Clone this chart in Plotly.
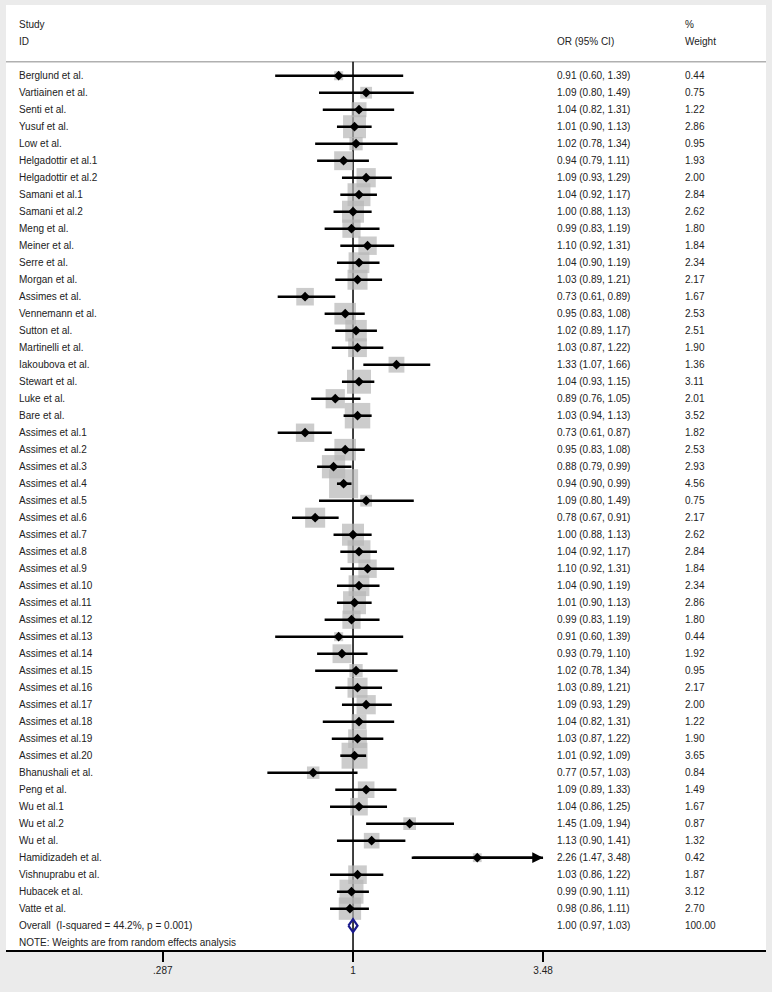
import numpy as np
import plotly.graph_objects as go

studies = [
    "Berglund et al.", "Vartiainen et al.", "Senti et al.", "Yusuf et al.", "Low et al.",
    "Helgadottir et al.1", "Helgadottir et al.2", "Samani et al.1", "Samani et al.2", "Meng et al.",
    "Meiner et al.", "Serre et al.", "Morgan et al.", "Assimes et al.", "Vennemann et al.",
    "Sutton et al.", "Martinelli et al.", "Iakoubova et al.", "Stewart et al.", "Luke et al.",
    "Bare et al.", "Assimes et al.1", "Assimes et al.2", "Assimes et al.3", "Assimes et al.4",
    "Assimes et al.5", "Assimes et al.6", "Assimes et al.7", "Assimes et al.8", "Assimes et al.9",
    "Assimes et al.10", "Assimes et al.11", "Assimes et al.12", "Assimes et al.13", "Assimes et al.14",
    "Assimes et al.15", "Assimes et al.16", "Assimes et al.17", "Assimes et al.18", "Assimes et al.19",
    "Assimes et al.20", "Bhanushali et al.", "Peng et al.", "Wu et al.1", "Wu et al.2",
    "Wu et al.", "Hamidizadeh et al.", "Vishnuprabu et al.", "Hubacek et al.", "Vatte et al.",
]
odds = [
    0.91, 1.09, 1.04, 1.01, 1.02, 0.94, 1.09, 1.04, 1.00, 0.99,
    1.10, 1.04, 1.03, 0.73, 0.95, 1.02, 1.03, 1.33, 1.04, 0.89,
    1.03, 0.73, 0.95, 0.88, 0.94, 1.09, 0.78, 1.00, 1.04, 1.10,
    1.04, 1.01, 0.99, 0.91, 0.93, 1.02, 1.03, 1.09, 1.04, 1.03,
    1.01, 0.77, 1.09, 1.04, 1.45, 1.13, 2.26, 1.03, 0.99, 0.98,
]
lower = [
    0.60, 0.80, 0.82, 0.90, 0.78, 0.79, 0.93, 0.92, 0.88, 0.83,
    0.92, 0.90, 0.89, 0.61, 0.83, 0.89, 0.87, 1.07, 0.93, 0.76,
    0.94, 0.61, 0.83, 0.79, 0.90, 0.80, 0.67, 0.88, 0.92, 0.92,
    0.90, 0.90, 0.83, 0.60, 0.79, 0.78, 0.89, 0.93, 0.82, 0.87,
    0.92, 0.57, 0.89, 0.86, 1.09, 0.90, 1.47, 0.86, 0.90, 0.86,
]
upper = [
    1.39, 1.49, 1.31, 1.13, 1.34, 1.11, 1.29, 1.17, 1.13, 1.19,
    1.31, 1.19, 1.21, 0.89, 1.08, 1.17, 1.22, 1.66, 1.15, 1.05,
    1.13, 0.87, 1.08, 0.99, 0.99, 1.49, 0.91, 1.13, 1.17, 1.31,
    1.19, 1.13, 1.19, 1.39, 1.10, 1.34, 1.21, 1.29, 1.31, 1.22,
    1.09, 1.03, 1.33, 1.25, 1.94, 1.41, 3.48, 1.22, 1.11, 1.11,
]
weights = [
    0.44, 0.75, 1.22, 2.86, 0.95, 1.93, 2.00, 2.84, 2.62, 1.80,
    1.84, 2.34, 2.17, 1.67, 2.53, 2.51, 1.90, 1.36, 3.11, 2.01,
    3.52, 1.82, 2.53, 2.93, 4.56, 0.75, 2.17, 2.62, 2.84, 1.84,
    2.34, 2.86, 1.80, 0.44, 1.92, 0.95, 2.17, 2.00, 1.22, 1.90,
    3.65, 0.84, 1.49, 1.67, 0.87, 1.32, 0.42, 1.87, 3.12, 2.70,
]
overall_label = "Overall  (I-squared = 44.2%, p = 0.001)"
overall = (1.00, 0.97, 1.03)
note = "NOTE: Weights are from random effects analysis"
tick_vals = [0.287, 1, 3.48]
tick_text = [".287", "1", "3.48"]

rows = np.arange(1, len(studies) + 1)
over_row = len(studies) + 1
note_row = over_row + 1
axis_max = 3.48

FONT = "Liberation Sans, Arial, sans-serif"
TXT = dict(family=FONT, size=10, color="#222222")

fig = go.Figure()

# grey weight boxes
fig.add_trace(go.Scatter(
    x=odds, y=rows, mode="markers",
    marker=dict(symbol="square", size=[13.6 * np.sqrt(w) for w in weights],
                color="#b7b7b7", line=dict(width=0)),
    hoverinfo="skip", showlegend=False,
))

# confidence intervals (capped at axis limit)
cx, cy = [], []
for lo, hi, r in zip(lower, upper, rows):
    cx += [lo, min(hi, axis_max), None]
    cy += [r, r, None]
fig.add_trace(go.Scatter(
    x=cx, y=cy, mode="lines", line=dict(color="black", width=2.6),
    hoverinfo="skip", showlegend=False,
))

# point estimates
fig.add_trace(go.Scatter(
    x=odds, y=rows, mode="markers",
    marker=dict(symbol="diamond", size=7.5, color="black"),
    hoverinfo="skip", showlegend=False,
))

# overall diamond
est, olo, ohi = overall
h = 0.38
fig.add_trace(go.Scatter(
    x=[olo, est, ohi, est, olo], y=[over_row, over_row - h, over_row, over_row + h, over_row],
    mode="lines", line=dict(color="#1a1a8c", width=2.2),
    hoverinfo="skip", showlegend=False,
))

# arrow for the truncated interval
for lo, hi, r in zip(lower, upper, rows):
    if hi >= axis_max:
        fig.add_annotation(
            x=np.log10(axis_max), y=r, ax=np.log10(lo), ay=r,
            xref="x", yref="y", axref="x", ayref="y",
            showarrow=True, arrowhead=2, arrowsize=0.9, arrowwidth=2.4,
            arrowcolor="black", text="",
        )

# text columns
def px(p):
    return (p - 6) / 760.0

for name, o, lo, hi, w, r in zip(studies, odds, lower, upper, weights, rows):
    fig.add_annotation(x=px(17), y=r, xref="paper", yref="y", text=name,
                       showarrow=False, xanchor="left", font=TXT)
    fig.add_annotation(x=px(555), y=r, xref="paper", yref="y",
                       text=f"{o:.2f} ({lo:.2f}, {hi:.2f})",
                       showarrow=False, xanchor="left", font=TXT)
    fig.add_annotation(x=px(683), y=r, xref="paper", yref="y", text=f"{w:.2f}",
                       showarrow=False, xanchor="left", font=TXT)

fig.add_annotation(x=px(17), y=over_row, xref="paper", yref="y", text=overall_label,
                   showarrow=False, xanchor="left", font=TXT)
fig.add_annotation(x=px(555), y=over_row, xref="paper", yref="y",
                   text=f"{est:.2f} ({olo:.2f}, {ohi:.2f})",
                   showarrow=False, xanchor="left", font=TXT)
fig.add_annotation(x=px(683), y=over_row, xref="paper", yref="y", text="100.00",
                   showarrow=False, xanchor="left", font=TXT)
fig.add_annotation(x=px(17), y=note_row, xref="paper", yref="y", text=note,
                   showarrow=False, xanchor="left", font=TXT)

# headers
for label, xp, r in [("Study", 17, -2), ("ID", 17, -1), ("OR (95% CI)", 555, -1),
                     ("%", 683, -2), ("Weight", 683, -1)]:
    fig.add_annotation(x=px(xp), y=r, xref="paper", yref="y", text=label,
                       showarrow=False, xanchor="left", font=TXT)

# header separator and null line
fig.add_shape(type="line", xref="paper", yref="y", x0=0, x1=1, y0=0.18, y1=0.18,
              line=dict(color="#b0b0b0", width=1.5), layer="below")
fig.add_shape(type="line", xref="x", yref="y", x0=1, x1=1, y0=0.18, y1=52.43,
              line=dict(color="black", width=1.5), layer="below")

fig.update_layout(
    width=772, height=992,
    margin=dict(l=6, r=6, t=5, b=42),
    paper_bgcolor="#ebebeb", plot_bgcolor="white",
    showlegend=False,
    font=TXT,
)
fig.update_xaxes(
    type="log", range=[-0.989, 1.177],
    tickvals=tick_vals, ticktext=tick_text,
    ticks="outside", ticklen=10, tickwidth=1.5, tickcolor="black",
    showline=True, linecolor="black", linewidth=2,
    showgrid=False, zeroline=False, tickfont=TXT,
)
fig.update_yaxes(
    range=[52.43, -3.16], showticklabels=False, showgrid=False,
    zeroline=False, showline=False, ticks="",
)

fig.write_html("out.html", config={"displayModeBar": False},
               post_script="document.body.style.margin='0';")
